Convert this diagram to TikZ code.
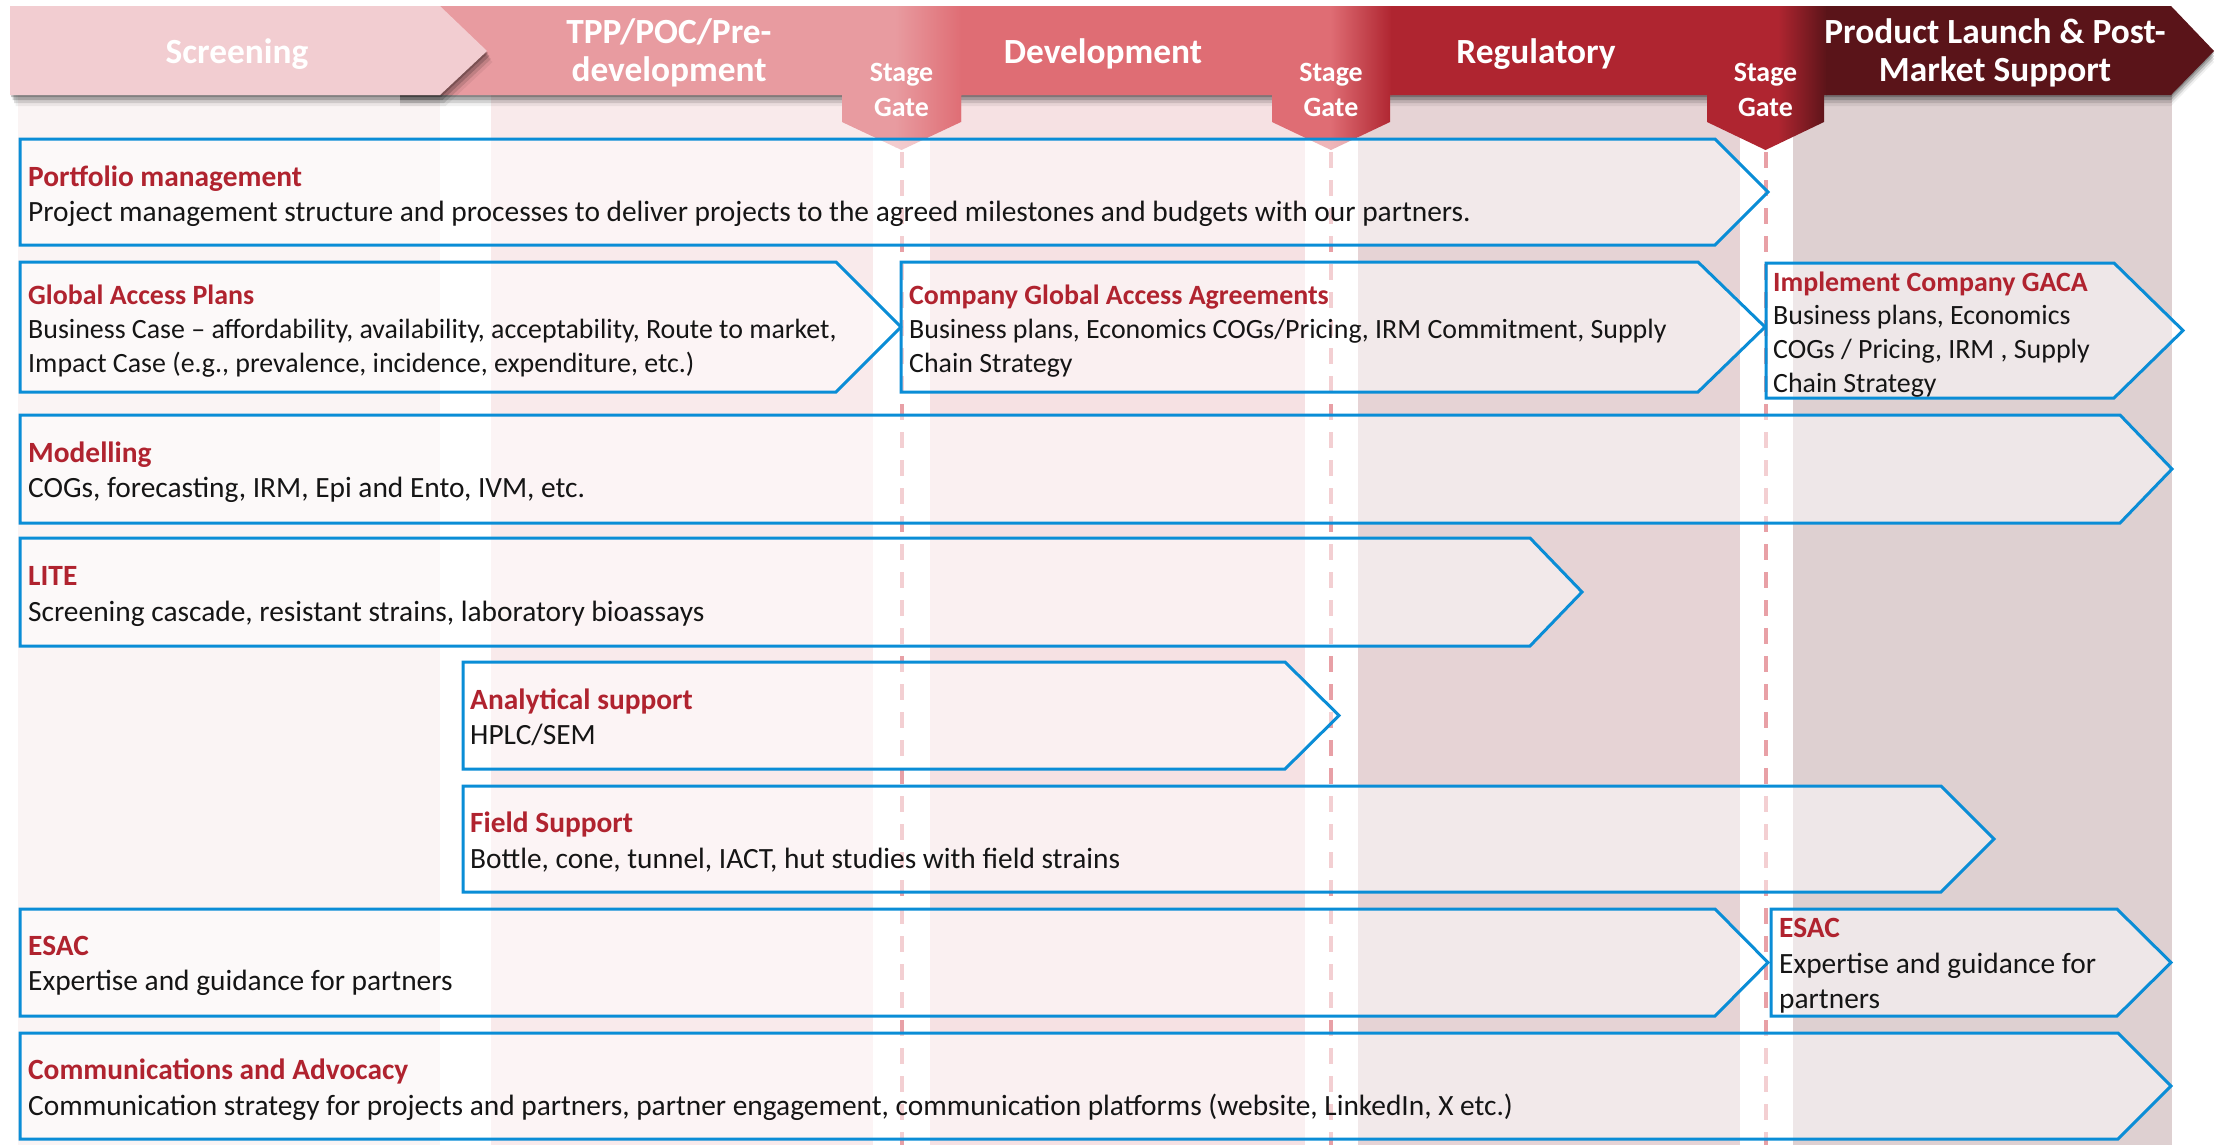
\documentclass[tikz,border=0pt]{standalone}
\usepackage{fontspec}
\setmainfont{Carlito}
\definecolor{cA}{HTML}{F2CDD1}
\definecolor{cB}{HTML}{E89BA0}
\definecolor{cC}{HTML}{DF6D74}
\definecolor{cD}{HTML}{AF2530}
\definecolor{cE}{HTML}{5A1419}
\definecolor{bgA}{HTML}{FAF4F4}
\definecolor{bgB}{HTML}{F9EAEB}
\definecolor{bgC}{HTML}{F6E1E3}
\definecolor{bgD}{HTML}{E6D3D5}
\definecolor{bgE}{HTML}{DED0D1}
\definecolor{bblue}{HTML}{0A8DD6}
\definecolor{hred}{HTML}{B0232F}
\definecolor{dashc}{HTML}{E8A0A6}
\definecolor{bodyc}{HTML}{151515}
\newcommand\boxhead[1]{{\bfseries\color{hred}#1}}
\begin{document}
\begin{tikzpicture}[x=1bp,y=-1bp,
  box/.style={draw=bblue, line width=3bp, fill=white, fill opacity=0.5, line join=miter},
  txt/.style={anchor=west, align=left, inner sep=0pt, text=bodyc, font=\fontsize{29.5}{35.5}\selectfont},
  txts/.style={txt, font=\fontsize{28}{34}\selectfont},
  hdr/.style={text=white, align=center, inner sep=0pt, font=\bfseries\fontsize{35.5}{38.5}\selectfont},
  gtx/.style={text=white, align=center, inner sep=0pt, font=\bfseries\fontsize{28}{35}\selectfont},
  gline/.style={draw=dashc, line width=4bp, dash pattern=on 16bp off 12bp}]
\useasboundingbox (0,0) rectangle (2221,1145);
\fill[white] (0,0) rectangle (2221,1145);

% background columns
\fill[bgA] (18,92) rectangle (440,1145);
\fill[bgB] (491,92) rectangle (873,1145);
\fill[bgC] (930,92) rectangle (1305,1145);
\fill[bgD] (1358,92) rectangle (1740,1145);
\fill[bgE] (1793,92) rectangle (2172,1145);

% header band shadow
\foreach \d/\o in {2/0.22,5/0.18,8/0.12,11/0.06}{
  \fill[black,opacity=\o,shift={(0,\d)}] (400,6) -- (2171,6) -- (2214,51) -- (2171,95) -- (400,95) -- cycle;
}

% header band with stage gates
\begin{scope}
\clip (400,6) -- (2171,6) -- (2214,51) -- (2171,95) -- (400,95) -- cycle
      (842,6) -- (961,6) -- (961,122) -- (901.5,150) -- (842,122) -- cycle
      (1272,6) -- (1390,6) -- (1390,122) -- (1331,150) -- (1272,122) -- cycle
      (1707,6) -- (1824,6) -- (1824,122) -- (1765.5,150) -- (1707,122) -- cycle;
\fill[cB] (390,0) rectangle (896,160);
\shade[left color=cB,right color=cC] (895,0) rectangle (962,160);
\fill[cC] (961,0) rectangle (1331,160);
\shade[left color=cC,right color=cD] (1330,0) rectangle (1392,160);
\fill[cD] (1391,0) rectangle (1779,160);
\shade[left color=cD,right color=cE] (1778,0) rectangle (1827,160);
\fill[cE] (1826,0) rectangle (2221,160);
\end{scope}

% screening chevron with shadow
\foreach \d/\o in {2/0.22,5/0.18,8/0.12,11/0.06}{
  \fill[black,opacity=\o,shift={(0.5*\d,\d)}] (10,6) -- (440,6) -- (487,51) -- (440,95) -- (10,95) -- cycle;
}
\fill[cA] (10,6) -- (440,6) -- (487,51) -- (440,95) -- (10,95) -- cycle;

% header labels
\node[hdr] (hScr) at (237,54) {Screening};
\node[hdr] (hTpp) at (669,53) {TPP/POC/Pre-\\development};
\node[hdr] (hDev) at (1103,54) {Development};
\node[hdr] (hReg) at (1536,54) {Regulatory};
\node[hdr] (hPro) at (1995,53) {Product Launch \& Post-\\Market Support};
\node[gtx] (g1) at (901.5,90) {Stage\\Gate};
\node[gtx] (g2) at (1331,90) {Stage\\Gate};
\node[gtx] (g3) at (1765.5,90) {Stage\\Gate};

% stage gate dashed lines
\coordinate (t1) at (901.5,152);  \coordinate (b1) at (901.5,1145);
\coordinate (t2) at (1331,152);   \coordinate (b2) at (1331,1145);
\coordinate (t3) at (1765.5,152); \coordinate (b3) at (1765.5,1145);
\draw[gline] (t1) -- (b1);
\draw[gline] (t2) -- (b2);
\draw[gline] (t3) -- (b3);

% activity boxes
\draw[box] (20,139) -- (1715,139) -- (1768,192) -- (1715,245) -- (20,245) -- cycle;
\draw[box] (20,262) -- (836,262) -- (901,327) -- (836,392) -- (20,392) -- cycle;
\draw[box] (901,262) -- (1698,262) -- (1765,327) -- (1698,392) -- (901,392) -- cycle;
\draw[box] (1766,263) -- (2114,263) -- (2183,330.5) -- (2114,398) -- (1766,398) -- cycle;
\draw[box] (20,415) -- (2120,415) -- (2172,469) -- (2120,523) -- (20,523) -- cycle;
\draw[box] (20,538) -- (1530,538) -- (1582,592) -- (1530,646) -- (20,646) -- cycle;
\draw[box] (463,662) -- (1285,662) -- (1339,715.5) -- (1285,769) -- (463,769) -- cycle;
\draw[box] (463,786) -- (1941,786) -- (1994,839) -- (1941,892) -- (463,892) -- cycle;
\draw[box] (20,909) -- (1715,909) -- (1768,962.5) -- (1715,1016) -- (20,1016) -- cycle;
\draw[box] (1771,909) -- (2117,909) -- (2171,962.5) -- (2117,1016) -- (1771,1016) -- cycle;
\draw[box] (20,1033) -- (2118,1033) -- (2171,1086) -- (2118,1139) -- (20,1139) -- cycle;

% texts
\node[txt] (pm) at (28,196) {\boxhead{Portfolio management}\\Project management structure and processes to deliver projects to the agreed milestones and budgets with our partners.};
\node[txts] (gap) at (28,331) {\boxhead{Global Access Plans}\\Business Case – affordability, availability, acceptability, Route to market,\\Impact Case (e.g., prevalence, incidence, expenditure, etc.)};
\node[txts] (cgaa) at (909,331) {\boxhead{Company Global Access Agreements}\\Business plans, Economics COGs/Pricing, IRM Commitment, Supply\\Chain Strategy};
\node[txts] (gaca) at (1773,334.5) {\boxhead{Implement Company GACA}\\Business plans, Economics\\COGs / Pricing, IRM , Supply\\Chain Strategy};
\node[txt] (mod) at (28,472.5) {\boxhead{Modelling}\\COGs, forecasting, IRM, Epi and Ento, IVM, etc.};
\node[txt] (lite) at (28,596.5) {\boxhead{LITE}\\Screening cascade, resistant strains, laboratory bioassays};
\node[txt] (ana) at (470,717.5) {\boxhead{Analytical support}\\HPLC/SEM};
\node[txt] (fld) at (470,842) {\boxhead{Field Support}\\Bottle, cone, tunnel, IACT, hut studies with field strains};
\node[txt] (esacL) at (28,966) {\boxhead{ESAC}\\Expertise and guidance for partners};
\node[txt] (esacR) at (1779,966) {\boxhead{ESAC}\\Expertise and guidance for\\partners};
\node[txt] (com) at (28,1089.5) {\boxhead{Communications and Advocacy}\\Communication strategy for projects and partners, partner engagement, communication platforms (website, LinkedIn, X etc.)};
\end{tikzpicture}
\end{document}
